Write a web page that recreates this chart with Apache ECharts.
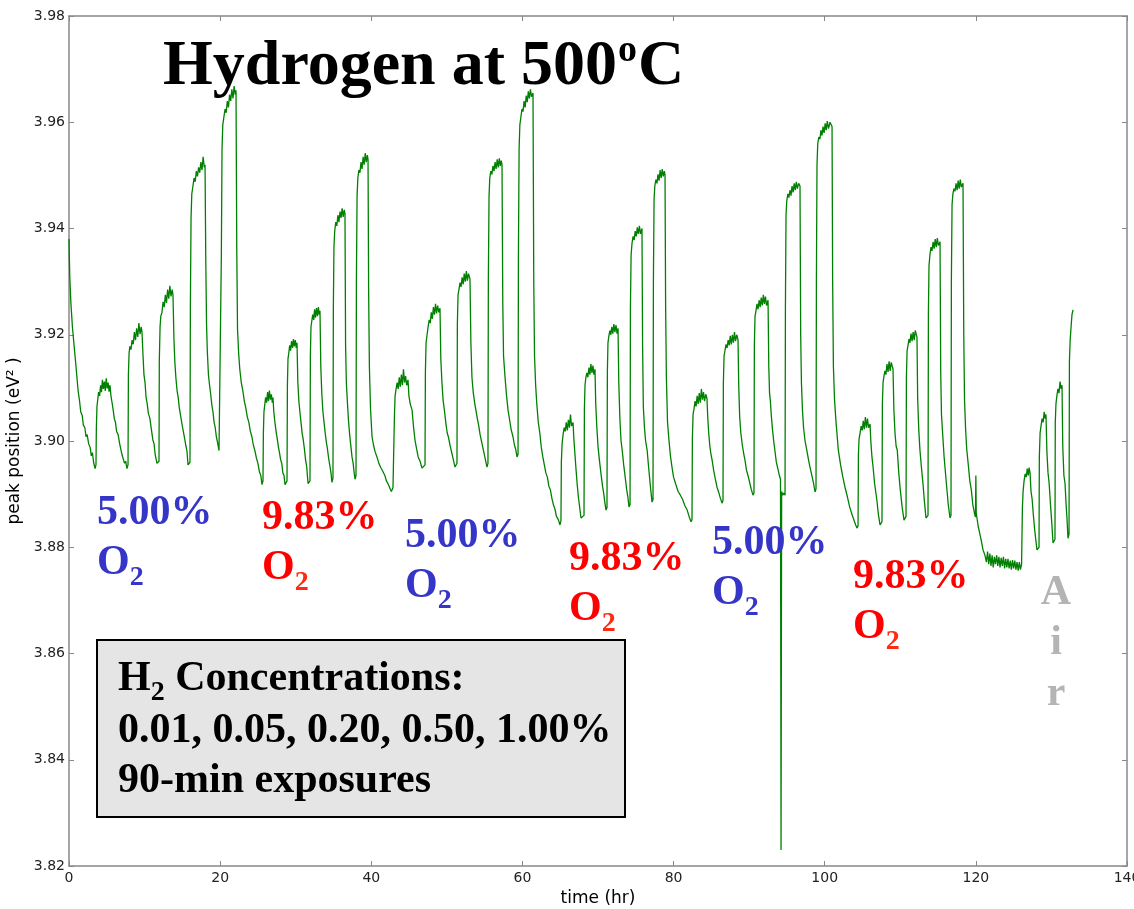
<!DOCTYPE html>
<html>
<head>
<meta charset="utf-8">
<script src="https://cdn.jsdelivr.net/npm/echarts@6/dist/echarts.min.js"></script>
<style>
  html, body { margin: 0; padding: 0; background: #ffffff; }
  #chart { width: 1134px; height: 909px; }
</style>
</head>
<body>
<div id="chart"></div>
<script>
// Peak position (eV^2) against time (hr), H2 pulses at 500 C.
// Each run: [time in hr, peak position in eV^2].

// 5.00% O2 background, first run
const lean1 = [
  [0,3.938],[0.1,3.931],[0.25,3.926],[0.45,3.9215],[0.7,3.9175],[0.9,3.9145],[1.05,3.912],[1.2,3.9095],[1.4,3.9075],[1.55,3.9055],[1.75,3.9048],[1.9,3.903],[2.1,3.9025],[2.25,3.9008],[2.4,3.9012],[2.6,3.8995],[2.8,3.8988],[2.95,3.8972],[3.1,3.8978],[3.25,3.896],[3.45,3.8948],
  [3.57,3.8955],[3.62,3.9025],[3.7,3.9065],[3.8,3.9078],[3.92,3.9092],[4.05,3.9085],[4.18,3.9105],[4.3,3.9092],[4.42,3.9115],[4.55,3.9098],[4.68,3.9112],[4.8,3.9094],[4.93,3.9118],[5.05,3.9099],[5.18,3.911],[5.3,3.9093],[5.43,3.9105],
  [5.55,3.9085],[5.7,3.9072],[5.85,3.9058],[6.0,3.9042],[6.15,3.9035],[6.3,3.9018],[6.5,3.9012],[6.7,3.8995],[6.85,3.8992],[7.0,3.8975],[7.2,3.8972],[7.35,3.8958],[7.5,3.8962],[7.67,3.8948],
  [7.81,3.8955],[7.86,3.9125],[7.95,3.9165],[8.05,3.9178],[8.2,3.9172],[8.35,3.919],[8.5,3.9182],[8.65,3.9205],[8.8,3.919],[8.95,3.9212],[9.1,3.9196],[9.25,3.9222],[9.4,3.9201],[9.55,3.9215],[9.66,3.9205],
  [9.78,3.9165],[9.92,3.9125],[10.06,3.911],[10.2,3.9082],[10.35,3.907],[10.5,3.9052],[10.7,3.9043],[10.9,3.9022],[11.1,3.9002],[11.25,3.8995],[11.4,3.8975],[11.52,3.8972],[11.64,3.8958],
  [11.91,3.8962],[11.95,3.915],[12.05,3.9215],[12.15,3.9235],[12.3,3.9242],[12.45,3.9262],[12.6,3.9252],[12.75,3.9275],[12.9,3.926],[13.05,3.9285],[13.2,3.9268],[13.35,3.9292],[13.5,3.9272],[13.65,3.9285],[13.76,3.9275],
  [13.88,3.9195],[14.0,3.915],[14.15,3.9118],[14.3,3.9095],[14.45,3.9082],[14.6,3.9062],[14.8,3.9045],[14.95,3.9032],[15.1,3.902],[15.3,3.9005],[15.45,3.8992],[15.6,3.8982],[15.75,3.8955],
  [16.01,3.896],[16.06,3.925],[16.15,3.942],[16.25,3.9465],[16.4,3.948],[16.55,3.9495],[16.7,3.9488],[16.85,3.9508],[17.0,3.9498],[17.15,3.9515],[17.3,3.9505],[17.45,3.9525],[17.6,3.951],[17.75,3.9535],[17.9,3.9515],[18.0,3.952],
  [18.1,3.934],[18.2,3.922],[18.3,3.917],[18.45,3.9125],[18.6,3.9105],[18.75,3.9088],[18.9,3.9068],[19.05,3.9055],[19.2,3.9035],[19.35,3.9025],[19.5,3.9008],[19.65,3.8998],[19.85,3.8982],
  [20.11,3.8985],[20.16,3.935],[20.25,3.955],[20.35,3.9595],[20.5,3.961],[20.65,3.9625],[20.8,3.9618],[20.95,3.964],[21.1,3.9628],[21.25,3.9652],[21.4,3.964],[21.55,3.9662],[21.7,3.9645],[21.85,3.9668],[22.0,3.9652],[22.1,3.966],
  [22.2,3.936],[22.3,3.921],[22.45,3.9165],[22.6,3.9135],[22.8,3.911],[23.0,3.9095],[23.2,3.9075],[23.4,3.9062],[23.6,3.9045],[23.8,3.9035],[24.0,3.9018],[24.2,3.9008],[24.4,3.8992],[24.6,3.8982],[24.8,3.8968],[25.0,3.8958],[25.2,3.8942],[25.38,3.8935],[25.54,3.8918]
];

// 9.83% O2 background, first run
const rich1 = [
  [25.67,3.8925],[25.72,3.9015],[25.8,3.9055],[25.9,3.9068],[26.02,3.9082],[26.15,3.9072],[26.28,3.9092],[26.4,3.9075],[26.52,3.9095],[26.65,3.9078],[26.78,3.9088],[26.9,3.9072],[26.99,3.9082],
  [27.1,3.9055],[27.25,3.9035],[27.4,3.9018],[27.55,3.9005],[27.7,3.899],[27.85,3.8978],[28.0,3.8965],[28.15,3.8958],[28.3,3.894],[28.45,3.8935],[28.58,3.8918],
  [28.85,3.8925],[28.9,3.9105],[28.98,3.9155],[29.08,3.9165],[29.2,3.918],[29.32,3.917],[29.45,3.9188],[29.58,3.9175],[29.7,3.9192],[29.82,3.9178],[29.95,3.919],[30.07,3.9175],[30.17,3.9185],
  [30.28,3.911],[30.42,3.9075],[30.55,3.9055],[30.7,3.9035],[30.85,3.9015],[31.0,3.9002],[31.15,3.8985],[31.3,3.8965],[31.45,3.8952],[31.63,3.892],
  [31.89,3.8925],[31.94,3.916],[32.02,3.9215],[32.12,3.9225],[32.25,3.9238],[32.38,3.9228],[32.5,3.9248],[32.62,3.9232],[32.75,3.925],[32.88,3.9235],[33.0,3.9252],[33.12,3.9238],[33.21,3.9245],
  [33.32,3.914],[33.45,3.909],[33.6,3.9055],[33.75,3.9035],[33.9,3.9015],[34.05,3.8998],[34.2,3.8985],[34.35,3.8968],[34.5,3.8955],[34.65,3.8942],[34.8,3.8922],
  [34.93,3.893],[34.98,3.925],[35.06,3.9365],[35.16,3.9395],[35.3,3.9412],[35.44,3.9405],[35.58,3.9425],[35.72,3.9412],[35.86,3.9432],[36.0,3.942],[36.14,3.9438],[36.28,3.9422],[36.42,3.9435],[36.52,3.9428],
  [36.6,3.918],[36.7,3.911],[36.85,3.907],[37.0,3.9035],[37.15,3.901],[37.3,3.899],[37.45,3.897],[37.6,3.8958],[37.72,3.8942],[37.85,3.8928],
  [37.98,3.8935],[38.03,3.93],[38.12,3.946],[38.22,3.9495],[38.36,3.951],[38.5,3.9505],[38.64,3.9525],[38.78,3.9512],[38.92,3.9535],[39.06,3.952],[39.2,3.9542],[39.34,3.9525],[39.48,3.9538],[39.57,3.953],
  [39.65,3.928],[39.75,3.914],[39.9,3.906],[40.1,3.9008],[40.3,3.8992],[40.5,3.898],[40.75,3.897],[41.0,3.8958],[41.25,3.895],[41.55,3.8942],[41.8,3.8935],[42.0,3.8925],[42.2,3.892],[42.45,3.8918],[42.65,3.8905],[42.87,3.8912]
];

// 5.00% O2 background, second run
const lean2 = [
  [43.01,3.8915],[43.06,3.9045],[43.15,3.9085],[43.28,3.9098],[43.42,3.911],[43.56,3.9098],[43.7,3.912],[43.84,3.9102],[43.98,3.9125],[44.12,3.9105],[44.26,3.9135],[44.4,3.911],[44.54,3.9122],[44.68,3.9105],[44.86,3.9115],
  [44.98,3.9085],[45.15,3.907],[45.4,3.9058],[45.6,3.9025],[45.8,3.9],[46.0,3.8985],[46.2,3.897],[46.45,3.8962],[46.71,3.8949],
  [47.11,3.8955],[47.16,3.913],[47.25,3.9185],[47.38,3.92],[47.52,3.9215],[47.66,3.9228],[47.8,3.9222],[47.94,3.9242],[48.08,3.923],[48.22,3.9252],[48.36,3.9238],[48.5,3.9258],[48.64,3.924],[48.78,3.9255],[48.94,3.9242],[49.09,3.925],
  [49.2,3.9155],[49.35,3.911],[49.5,3.9077],[49.7,3.9055],[49.9,3.903],[50.05,3.9015],[50.2,3.9008],[50.45,3.899],[50.7,3.8975],[50.9,3.8962],[51.08,3.8951],
  [51.34,3.8958],[51.39,3.922],[51.48,3.9275],[51.6,3.9285],[51.74,3.9298],[51.88,3.929],[52.02,3.9308],[52.16,3.9295],[52.3,3.9315],[52.44,3.93],[52.58,3.932],[52.72,3.9302],[52.86,3.9315],[53.06,3.9305],
  [53.18,3.9185],[53.32,3.912],[53.5,3.909],[53.7,3.907],[54.0,3.9045],[54.2,3.903],[54.4,3.9012],[54.65,3.8995],[54.85,3.8982],[55.1,3.8965],[55.31,3.8951],
  [55.44,3.8958],[55.49,3.93],[55.58,3.946],[55.68,3.9495],[55.82,3.9508],[55.96,3.9502],[56.1,3.9518],[56.24,3.9508],[56.38,3.9525],[56.52,3.9512],[56.66,3.953],[56.8,3.9515],[56.94,3.9532],[57.08,3.9518],[57.2,3.9528],[57.3,3.952],
  [57.4,3.926],[57.5,3.916],[57.7,3.912],[57.9,3.9085],[58.1,3.9058],[58.3,3.904],[58.5,3.9022],[58.75,3.9008],[58.95,3.8992],[59.1,3.8985],[59.28,3.897],
  [59.42,3.8975],[59.47,3.935],[59.56,3.955],[59.66,3.9595],[59.8,3.961],[59.94,3.9625],[60.08,3.962],[60.22,3.964],[60.36,3.9628],[60.5,3.965],[60.64,3.9638],[60.78,3.9658],[60.92,3.9645],[61.06,3.9662],[61.2,3.9648],[61.4,3.9655],
  [61.5,3.93],[61.6,3.916],[61.75,3.9105],[61.9,3.907],[62.1,3.9035],[62.3,3.9015],[62.5,3.8988],[62.7,3.897],[62.9,3.8955],[63.1,3.894],[63.3,3.8932],[63.5,3.8915],[63.7,3.8908],[63.9,3.8892],[64.1,3.888],[64.3,3.8872],[64.5,3.8858],[64.75,3.8852],[64.97,3.8842]
];

// 9.83% O2 background, second run
const rich2 = [
  [65.1,3.885],[65.15,3.896],[65.25,3.8995],[65.38,3.9012],[65.52,3.9025],[65.66,3.9018],[65.8,3.9035],[65.94,3.902],[66.08,3.904],[66.22,3.9025],[66.36,3.905],[66.5,3.9028],[66.7,3.9035],
  [66.8,3.9005],[66.95,3.8975],[67.1,3.8945],[67.25,3.8918],[67.4,3.8895],[67.55,3.8878],[67.75,3.8855],
  [68.15,3.886],[68.2,3.906],[68.28,3.9105],[68.4,3.912],[68.53,3.9128],[68.66,3.912],[68.8,3.9138],[68.93,3.9125],[69.06,3.9145],[69.2,3.9128],[69.33,3.9142],[69.46,3.9125],[69.6,3.9135],
  [69.7,3.907],[69.85,3.9025],[70.0,3.899],[70.2,3.8962],[70.4,3.8938],[70.6,3.8915],[70.75,3.8902],[70.9,3.8885],[71.06,3.887],
  [71.19,3.8875],[71.24,3.913],[71.32,3.9185],[71.44,3.9198],[71.57,3.9208],[71.7,3.92],[71.83,3.9215],[71.96,3.9202],[72.1,3.922],[72.24,3.9205],[72.38,3.9218],[72.52,3.9202],[72.65,3.9212],
  [72.75,3.911],[72.9,3.904],[73.05,3.9],[73.2,3.8983],[73.4,3.8955],[73.6,3.8932],[73.8,3.8908],[73.95,3.8895],[74.1,3.8876],
  [74.24,3.888],[74.29,3.925],[74.38,3.935],[74.5,3.9372],[74.64,3.9385],[74.78,3.9378],[74.92,3.9395],[75.06,3.9385],[75.2,3.9402],[75.34,3.939],[75.48,3.9405],[75.62,3.939],[75.82,3.94],
  [75.9,3.918],[76.0,3.9064],[76.15,3.9025],[76.3,3.9],[76.5,3.8983],[76.7,3.895],[76.9,3.892],[77.0,3.8905],[77.15,3.8885],
  [77.28,3.889],[77.33,3.93],[77.42,3.9455],[77.52,3.948],[77.66,3.9492],[77.8,3.9485],[77.94,3.9502],[78.08,3.949],[78.22,3.951],[78.36,3.9495],[78.5,3.9512],[78.64,3.9498],[78.78,3.9508],[78.87,3.95],
  [78.95,3.925],[79.05,3.912],[79.2,3.9035],[79.4,3.9],[79.6,3.897],[79.8,3.895],[80.0,3.8932],[80.3,3.8918],[80.6,3.8905],[80.9,3.8898],[81.2,3.889],[81.5,3.8878],[81.8,3.887],[82.05,3.8858],[82.31,3.8848]
];

// 5.00% O2 background, third run (includes the brief dropout near 94 hr)
const lean3 = [
  [82.44,3.8852],[82.49,3.9005],[82.58,3.905],[82.7,3.906],[82.84,3.9075],[82.98,3.9065],[83.12,3.9085],[83.26,3.907],[83.4,3.909],[83.54,3.9072],[83.68,3.9098],[83.82,3.9078],[83.96,3.9092],[84.1,3.9075],[84.26,3.9088],[84.42,3.908],
  [84.52,3.9045],[84.65,3.9015],[84.8,3.899],[84.95,3.8975],[85.1,3.8964],[85.3,3.8945],[85.5,3.893],[85.75,3.8913],[86.0,3.8902],[86.2,3.8892],[86.41,3.8883],
  [86.54,3.8888],[86.59,3.911],[86.68,3.916],[86.8,3.917],[86.94,3.9182],[87.08,3.9175],[87.22,3.919],[87.36,3.918],[87.5,3.9198],[87.64,3.9182],[87.78,3.92],[87.92,3.9185],[88.06,3.9205],[88.2,3.9188],[88.36,3.92],[88.53,3.919],
  [88.62,3.9105],[88.75,3.9045],[88.9,3.9015],[89.1,3.8992],[89.3,3.8975],[89.45,3.8964],[89.65,3.8945],[89.85,3.8935],[90.1,3.892],[90.3,3.8908],[90.51,3.8898],
  [90.64,3.8902],[90.69,3.918],[90.78,3.9235],[90.9,3.9245],[91.04,3.9258],[91.18,3.9248],[91.32,3.9265],[91.46,3.9252],[91.6,3.927],[91.74,3.9255],[91.88,3.9275],[92.02,3.9258],[92.16,3.9272],[92.3,3.9255],[92.5,3.9265],
  [92.6,3.914],[92.7,3.909],[92.8,3.9077],[92.95,3.9045],[93.1,3.902],[93.25,3.9],[93.4,3.8983],[93.6,3.896],[93.8,3.8948],[94.0,3.8935],[94.15,3.8928],
  [94.22,3.823],[94.3,3.8905],[94.45,3.8898],[94.6,3.8902],
  [94.75,3.8898],[94.8,3.925],[94.88,3.9425],[94.98,3.9452],[95.12,3.9465],[95.26,3.9458],[95.4,3.9472],[95.54,3.9462],[95.68,3.948],[95.82,3.9468],[95.96,3.9485],[96.1,3.9472],[96.24,3.9488],[96.38,3.9475],[96.55,3.9485],[96.73,3.948],
  [96.82,3.92],[96.92,3.911],[97.05,3.906],[97.2,3.9025],[97.4,3.9],[97.6,3.8985],[97.85,3.8965],[98.05,3.8951],[98.3,3.8935],[98.5,3.8922],[98.72,3.8904],
  [98.85,3.891],[98.9,3.93],[98.98,3.952],[99.08,3.956],[99.22,3.9572],[99.36,3.9568],[99.5,3.9585],[99.64,3.9575],[99.78,3.9592],[99.92,3.958],[100.06,3.9598],[100.2,3.9585],[100.34,3.9602],[100.5,3.9588],[100.7,3.96],[100.97,3.9592],
  [101.05,3.93],[101.15,3.914],[101.3,3.9077],[101.5,3.9035],[101.8,3.8983],[102.1,3.8955],[102.4,3.8932],[102.7,3.8912],[103.0,3.8895],[103.3,3.8876],[103.6,3.8862],[103.9,3.885],[104.1,3.8842],[104.27,3.8836]
];

// 9.83% O2 background, third run
const rich3 = [
  [104.41,3.884],[104.46,3.8975],[104.55,3.9005],[104.68,3.9015],[104.82,3.9028],[104.96,3.902],[105.1,3.9038],[105.24,3.9022],[105.38,3.9045],[105.52,3.9025],[105.66,3.9042],[105.8,3.9025],[106.0,3.9032],
  [106.1,3.9],[106.25,3.897],[106.4,3.8951],[106.6,3.892],[106.9,3.8889],[107.1,3.8862],[107.32,3.8842],
  [107.58,3.8848],[107.63,3.907],[107.72,3.911],[107.84,3.9122],[107.97,3.9132],[108.1,3.9125],[108.24,3.9145],[108.38,3.913],[108.52,3.915],[108.66,3.9132],[108.8,3.9148],[109.04,3.9135],
  [109.15,3.906],[109.3,3.9015],[109.45,3.899],[109.6,3.8983],[109.8,3.894],[110.0,3.8908],[110.25,3.8875],[110.49,3.8851],
  [110.76,3.8858],[110.81,3.912],[110.9,3.917],[111.02,3.918],[111.15,3.9192],[111.28,3.9185],[111.42,3.9202],[111.56,3.9188],[111.7,3.9205],[111.84,3.919],[111.98,3.9208],[112.21,3.9195],
  [112.3,3.908],[112.45,3.902],[112.6,3.8983],[112.8,3.895],[113.0,3.892],[113.2,3.8885],[113.4,3.8855],
  [113.67,3.886],[113.72,3.924],[113.8,3.933],[113.92,3.935],[114.06,3.9365],[114.2,3.9358],[114.34,3.9375],[114.48,3.9362],[114.62,3.938],[114.76,3.9365],[114.9,3.9382],[115.04,3.9368],[115.26,3.9375],
  [115.35,3.913],[115.45,3.905],[115.6,3.9015],[115.8,3.897],[116.1,3.892],[116.35,3.888],[116.58,3.8855],
  [116.71,3.886],[116.76,3.93],[116.85,3.9445],[116.96,3.9465],[117.1,3.9475],[117.24,3.947],[117.38,3.9485],[117.52,3.9472],[117.66,3.949],[117.8,3.9475],[117.94,3.9492],[118.08,3.9478],[118.3,3.9485],
  [118.4,3.92],[118.5,3.9077],[118.65,3.902],[118.8,3.8983],[119.0,3.8955],[119.2,3.8925],[119.4,3.8908],[119.6,3.888],[119.8,3.8865],[119.95,3.8857],
  [120.0,3.8935],[120.05,3.8865],[120.3,3.884],[120.5,3.8827],[120.75,3.881],[120.95,3.8795]
];

// Air background: baseline hold, then four H2 pulses
const airRun = [
  [121.2,3.8785],[121.4,3.8772],[121.55,3.8792],[121.7,3.8768],[121.85,3.8788],[122.0,3.8765],[122.15,3.8785],[122.3,3.8762],[122.45,3.8782],[122.6,3.8768],[122.75,3.8785],[122.9,3.8765],[123.05,3.8782],[123.2,3.8762],[123.35,3.878],[123.5,3.8765],[123.65,3.8782],[123.8,3.876],[123.95,3.8778],[124.1,3.8762],[124.25,3.8778],[124.4,3.876],[124.55,3.8775],[124.7,3.8758],[124.85,3.8776],[125.0,3.876],[125.15,3.8775],[125.3,3.8758],[125.45,3.8772],[125.6,3.8756],[125.75,3.8772],[125.9,3.8758],[126.05,3.8768],
  [126.11,3.877],[126.16,3.8875],[126.25,3.8905],[126.38,3.8925],[126.52,3.8938],[126.66,3.8932],[126.8,3.8948],[126.94,3.8935],[127.05,3.895],[127.17,3.894],
  [127.3,3.8905],[127.45,3.889],[127.6,3.8862],[127.75,3.8838],[127.92,3.8815],[128.09,3.8795],
  [128.36,3.88],[128.4,3.897],[128.5,3.9015],[128.62,3.9028],[128.76,3.9042],[128.9,3.9035],[129.04,3.9055],[129.16,3.9042],[129.28,3.905],
  [129.4,3.898],[129.55,3.894],[129.7,3.892],[129.9,3.8875],[130.05,3.8845],[130.21,3.8808],
  [130.47,3.8815],[130.51,3.9035],[130.6,3.907],[130.72,3.9085],[130.86,3.9098],[131.0,3.909],[131.14,3.9112],[131.28,3.9098],[131.4,3.9105],
  [131.5,3.899],[131.65,3.8935],[131.8,3.892],[131.95,3.8878],[132.05,3.8857],[132.19,3.8817],
  [132.33,3.8825],[132.38,3.915],[132.48,3.919],[132.6,3.9215],[132.72,3.9238],[132.86,3.9247]
];

// Axis ranges and tick steps
const timeRange = [0, 140, 20];
const peakRange = [3.82, 3.98, 0.02];

// Annotations
const bgLabels = ['5.00%', '9.83%', '5.00%', '9.83%', '5.00%', '9.83%'];
const h2Lines = ['Concentrations:', '0.01, 0.05, 0.20, 0.50, 1.00%', '90-min exposures'];

const trace = [].concat(lean1, rich1, lean2, rich2, lean3, rich3, airRun);

const chart = echarts.init(document.getElementById('chart'), null, { renderer: 'canvas' });

const SERIF = '"Liberation Serif", "Times New Roman", serif';
const measure = (() => {
  const ctx = document.createElement('canvas').getContext('2d');
  return (s, font) => { ctx.font = font; return ctx.measureText(s).width; };
})();

const BLUE = '#3535c8';
const RED = '#ff0000';
const RED_SUB = '#ff2a10';

// text helper: y is the em-box middle
function txt(text, x, y, size, color) {
  return {
    type: 'text', x: x, y: y, z: 100,
    style: {
      text: text, fill: color,
      font: 'bold ' + size + 'px ' + SERIF,
      align: 'left', verticalAlign: 'middle'
    }
  };
}

const graphics = [];

// Title
const titleMain = 'Hydrogen at 500';
const tx = 163, tSize = 64;
const tW = measure(titleMain, 'bold ' + tSize + 'px ' + SERIF);
const supSize = 38;
const supW = measure('o', 'bold ' + supSize + 'px ' + SERIF);
graphics.push(txt(titleMain, tx, 67, tSize, '#000'));
graphics.push(txt('o', tx + tW + 1, 51, supSize, '#000'));
graphics.push(txt('C', tx + tW + supW + 2, 67, tSize, '#000'));

// O2 background labels: [x, middle of percent line]
const labelPos = [[97, 512.8], [262, 517.8], [405, 535.8], [569, 558.8], [712, 542.8], [853, 576.8]];
const oW = measure('O', 'bold 42px ' + SERIF);
bgLabels.forEach((lab, i) => {
  const [x, y] = labelPos[i];
  const lean = lab === '5.00%';
  const col = lean ? BLUE : RED;
  graphics.push(txt(lab, x, y, 42, col));
  graphics.push(txt('O', x, y + 50, 42, col));
  graphics.push(txt('2', x + oW, y + 64.7, 28, lean ? BLUE : RED_SUB));
});

// Air label, stacked letters
['A', 'i', 'r'].forEach((ch, i) => {
  graphics.push({
    type: 'text', x: 1056, y: 592.8 + i * 50.5, z: 100,
    style: { text: ch, fill: '#b4b4b4', font: 'bold 42px ' + SERIF, align: 'center', verticalAlign: 'middle' }
  });
});

// H2 concentration box
graphics.push({
  type: 'rect', z: 99,
  shape: { x: 97, y: 640, width: 528, height: 177 },
  style: { fill: '#e5e5e5', stroke: '#000', lineWidth: 2 }
});
const hW = measure('H', 'bold 42px ' + SERIF);
const twoW = measure('2', 'bold 28px ' + SERIF);
graphics.push(txt('H', 118, 678.8, 42, '#000'));
graphics.push(txt('2', 118 + hW, 692.5, 28, '#000'));
graphics.push(txt(' ' + h2Lines[0], 118 + hW + twoW, 678.8, 42, '#000'));
graphics.push(txt(h2Lines[1], 118, 730.8, 42, '#000'));
graphics.push(txt(h2Lines[2], 118, 780.8, 42, '#000'));

const axisGray = '#888888';
const tickFont = { fontFamily: '"DejaVu Sans", sans-serif', fontSize: 14, color: '#222' };

function xAxis(pos, showLabels) {
  return {
    type: 'value', position: pos,
    min: timeRange[0], max: timeRange[1], interval: timeRange[2],
    name: showLabels ? 'time (hr)' : '',
    nameLocation: 'middle', nameGap: 20,
    nameTextStyle: { fontFamily: '"DejaVu Sans", sans-serif', fontSize: 17, color: '#000' },
    axisLine: { show: true, onZero: false, lineStyle: { color: axisGray, width: 1.5 } },
    axisTick: { show: true, inside: true, length: 5, lineStyle: { color: axisGray, width: 1 } },
    axisLabel: Object.assign({ show: showLabels, margin: 5 }, tickFont),
    splitLine: { show: false }
  };
}
function yAxis(pos, showLabels) {
  return {
    type: 'value', position: pos,
    min: peakRange[0], max: peakRange[1], interval: peakRange[2],
    name: showLabels ? 'peak position (eV\u00B2 )' : '',
    nameLocation: 'middle', nameGap: 40, nameRotate: 90,
    nameTextStyle: { fontFamily: '"DejaVu Sans", sans-serif', fontSize: 17, color: '#000' },
    axisLine: { show: true, onZero: false, lineStyle: { color: axisGray, width: 1.5 } },
    axisTick: { show: true, inside: true, length: 5, lineStyle: { color: axisGray, width: 1 } },
    axisLabel: Object.assign({ show: showLabels, margin: 4, formatter: v => v.toFixed(2) }, tickFont),
    splitLine: { show: false }
  };
}

chart.setOption({
  animation: false,
  backgroundColor: '#ffffff',
  grid: { left: 69, right: 7, top: 16, bottom: 43, containLabel: false, outerBoundsMode: 'none' },
  xAxis: [xAxis('bottom', true), xAxis('top', false)],
  yAxis: [yAxis('left', true), yAxis('right', false)],
  series: [{
    type: 'line',
    xAxisIndex: 0, yAxisIndex: 0,
    data: trace,
    showSymbol: false,
    symbol: 'none',
    sampling: null,
    clip: true,
    lineStyle: { color: '#008000', width: 1.3 },
    z: 3
  }],
  graphic: graphics
});
</script>
</body>
</html>
